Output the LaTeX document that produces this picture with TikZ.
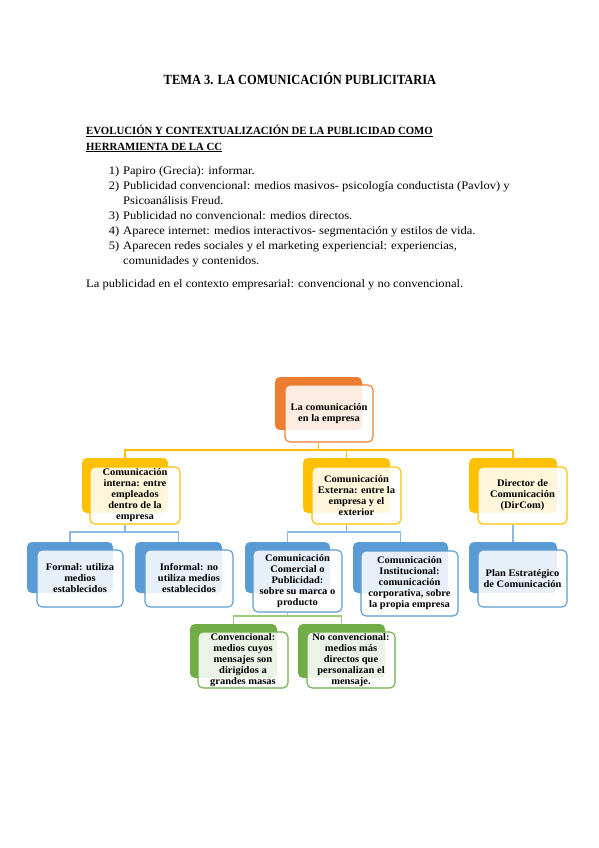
\documentclass[tikz,border=0pt]{standalone}
\usepackage{fontspec}
\setmainfont{Liberation Serif}
\newfontfamily\bodyfont[FakeStretch=1.09]{Liberation Serif}
\newfontfamily\titlefont[FakeStretch=0.89]{Liberation Serif}
\newfontfamily\headfont[FakeStretch=0.98]{Liberation Serif}
\newfontfamily\boxfont[FakeStretch=1.05]{Liberation Serif}
\definecolor{orgO}{HTML}{ED7D31}
\definecolor{orgY}{HTML}{FFC000}
\definecolor{orgB}{HTML}{5B9BD5}
\definecolor{orgG}{HTML}{70AD47}
\definecolor{lnB}{HTML}{8DB8E4}
\definecolor{lnG}{HTML}{9CCB7C}
\begin{document}
\begin{tikzpicture}[x=1pt,y=-1pt,
  txt/.style={anchor=base west, inner sep=0pt, font=\bodyfont\fontsize{11.5}{13}\selectfont},
  num/.style={anchor=base east, inner sep=0pt, font=\bodyfont\fontsize{11.5}{13}\selectfont},
  back/.style={rectangle, rounded corners=5pt, draw=none, inner sep=0pt},
  front/.style={rectangle, rounded corners=5pt, line width=1.1pt, fill=white, fill opacity=0.86, text opacity=1, inner sep=0pt, align=center, font=\boxfont\bfseries\fontsize{10}{11}\selectfont},
  conn/.style={line width=1.2pt}]
\useasboundingbox[fill=white] (0,0) rectangle (599,848);

% ---- header text ----
\node[anchor=base, inner sep=0pt, font=\titlefont\bfseries\fontsize{14}{16}\selectfont] (title) at (300,85) {TEMA 3. LA COMUNICACIÓN PUBLICITARIA};
\node[txt, font=\headfont\bfseries\fontsize{11}{13}\selectfont] (h1) at (86,135) {\underline{EVOLUCIÓN Y CONTEXTUALIZACIÓN DE LA PUBLICIDAD COMO}};
\node[txt, font=\headfont\bfseries\fontsize{11}{13}\selectfont] (h2) at (86,150) {\underline{HERRAMIENTA DE LA CC}};

\node[num] (n1) at (119.5,174) {1)};
\node[txt] (i1) at (123,174) {Papiro (Grecia): informar.};
\node[num] (n2) at (119.5,189) {2)};
\node[txt] (i2) at (123,189) {Publicidad convencional: medios masivos- psicología conductista (Pavlov) y};
\node[txt] (i2b) at (123,204) {Psicoanálisis Freud.};
\node[num] (n3) at (119.5,219) {3)};
\node[txt] (i3) at (123,219) {Publicidad no convencional: medios directos.};
\node[num] (n4) at (119.5,234) {4)};
\node[txt] (i4) at (123,234) {Aparece internet: medios interactivos- segmentación y estilos de vida.};
\node[num] (n5) at (119.5,249) {5)};
\node[txt] (i5) at (123,249) {Aparecen redes sociales y el marketing experiencial: experiencias,};
\node[txt] (i5b) at (123,264) {comunidades y contenidos.};
\node[txt] (fin) at (86,287) {La publicidad en el contexto empresarial: convencional y no convencional.};

% ---- level 1 ----
\node[back, fill=orgO, minimum width=87, minimum height=53] (rootb) at (318.5,403.5) {};
\node[front, draw=orgO, minimum width=88, minimum height=57] (root) at (329,413.5) {La comunicación\\en la empresa};

% ---- level 2 ----
\node[back, fill=orgY, minimum width=86, minimum height=55] (b1b) at (125,485.5) {};
\node[front, draw=orgY, minimum width=90, minimum height=57] (b1) at (135,495.5) {Comunicación\\interna: entre\\empleados\\dentro de la\\empresa};
\node[back, fill=orgY, minimum width=87, minimum height=55] (b2b) at (346.5,485.5) {};
\node[front, draw=orgY, minimum width=89, minimum height=57] (b2) at (356.5,495.5) {Comunicación\\Externa: entre la\\empresa y el\\exterior};
\node[back, fill=orgY, minimum width=88, minimum height=55] (b3b) at (513,485.5) {};
\node[front, draw=orgY, minimum width=89, minimum height=57] (b3) at (522.5,495.5) {Director de\\Comunicación\\(DirCom)};

% ---- level 3 ----
\node[back, fill=orgB, minimum width=86, minimum height=51] (c1b) at (70,567.5) {};
\node[front, draw=orgB, minimum width=86, minimum height=57] (c1) at (80,578.5) {Formal: utiliza\\medios\\establecidos};
\node[back, fill=orgB, minimum width=87, minimum height=51] (c2b) at (178.5,567.5) {};
\node[front, draw=orgB, minimum width=88, minimum height=57] (c2) at (189,578.5) {Informal: no\\utiliza medios\\establecidos};
\node[back, fill=orgB, minimum width=85, minimum height=51] (c3b) at (287.5,567.5) {};
\node[front, draw=orgB, minimum width=89, minimum height=62] (c3) at (297.5,581) {Comunicación\\Comercial o\\Publicidad:\\sobre su marca o\\producto};
\node[back, fill=orgB, minimum width=95, minimum height=51] (c4b) at (400.5,567.5) {};
\node[front, draw=orgB, minimum width=97, minimum height=65] (c4) at (409.5,583.5) {Comunicación\\Institucional:\\comunicación\\corporativa, sobre\\la propia empresa};
\node[back, fill=orgB, minimum width=88, minimum height=51] (c5b) at (513,567.5) {};
\node[front, draw=orgB, minimum width=89, minimum height=57] (c5) at (522.5,578.5) {Plan Estratégico\\de Comunicación};

% ---- level 4 ----
\node[back, fill=orgG, minimum width=87, minimum height=54] (d1b) at (233.5,651) {};
\node[front, draw=orgG, minimum width=90, minimum height=56] (d1) at (243,660) {Convencional:\\medios cuyos\\mensajes son\\dirigidos a\\grandes masas};
\node[back, fill=orgG, minimum width=87, minimum height=54] (d2b) at (341.5,651) {};
\node[front, draw=orgG, minimum width=88, minimum height=56] (d2) at (351,660) {No convencional:\\medios más\\directos que\\personalizan el\\mensaje.};

% ---- connectors ----
\coordinate (l1) at (0,450);
\coordinate (l2) at (0,532);
\coordinate (l3) at (0,616);
\draw[conn, orgY] (rootb.south |- root.south) -- (rootb.south |- l1) -| (b1b.north);
\draw[conn, orgY] (rootb.south |- l1) -| (b2b.north);
\draw[conn, orgY] (rootb.south |- l1) -| (b3b.north);

\draw[conn, lnB] (b1b.south |- b1.south) -- (b1b.south |- l2) -| (c1b.north);
\draw[conn, lnB] (b1b.south |- l2) -| (c2b.north);
\draw[conn, lnB] (b2b.south |- b2.south) -- (b2b.south |- l2) -| (c3b.north);
\draw[conn, lnB] (b2b.south |- l2) -| (c4b.north);
\draw[conn, lnB] (b3b.south |- b3.south) -- (c5b.north);

\draw[conn, lnG] (c3b.south |- c3.south) -- (c3b.south |- l3) -| (d1b.north);
\draw[conn, lnG] (c3b.south |- l3) -| (d2b.north);
\end{tikzpicture}
\end{document}
